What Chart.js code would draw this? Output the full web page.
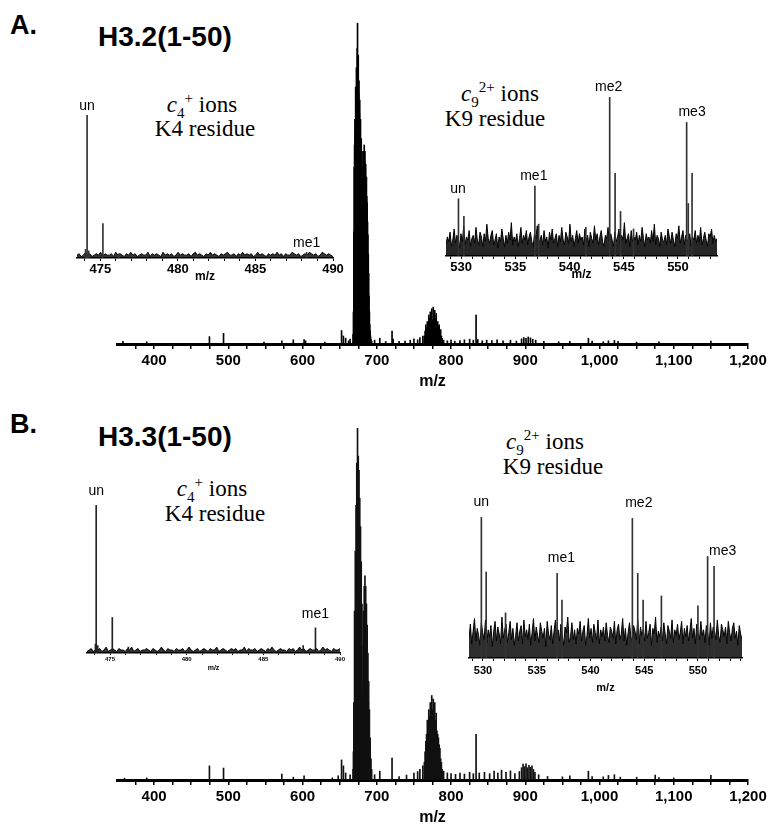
<!DOCTYPE html>
<html>
<head>
<meta charset="utf-8">
<script src="https://cdn.jsdelivr.net/npm/chart.js@4.4.0/dist/chart.umd.min.js"></script>
<style>
  body { margin: 0; background: #fff; }
  #page { position: relative; width: 768px; height: 828px; overflow: hidden; }
  canvas { position: absolute; left: 0; top: 0; }
  .t { position: absolute; white-space: nowrap; line-height: 1; color: #000; }
  .letter { font: bold 27px 'Liberation Sans', Arial, sans-serif; }
  .name { font: bold 28px 'Liberation Sans', Arial, sans-serif; }
  .ion { font: 23px 'Liberation Serif', 'Times New Roman', serif; transform: translateX(-50%); }
  .ion sub, .ion sup { font-size: 15px; line-height: 0; }
</style>
</head>
<body>
<div id="page">
  <div class="t letter" style="left:10px;top:10px">A.</div>
  <div class="t name" style="left:98px;top:21px">H3.2(1-50)</div>
  <div class="t ion" style="left:202px;top:92px"><i>c</i><sub>4</sub><sup>+</sup> ions</div>
  <div class="t ion" style="left:205px;top:116px">K4 residue</div>
  <div class="t ion" style="left:500px;top:81px"><i>c</i><sub>9</sub><sup>2+</sup> ions</div>
  <div class="t ion" style="left:495px;top:106px">K9 residue</div>

  <div class="t letter" style="left:10px;top:409px">B.</div>
  <div class="t name" style="left:98px;top:421px">H3.3(1-50)</div>
  <div class="t ion" style="left:212px;top:476px"><i>c</i><sub>4</sub><sup>+</sup> ions</div>
  <div class="t ion" style="left:215px;top:501px">K4 residue</div>
  <div class="t ion" style="left:545px;top:429px"><i>c</i><sub>9</sub><sup>2+</sup> ions</div>
  <div class="t ion" style="left:553px;top:454px">K9 residue</div>

  <canvas id="mainA" width="768" height="828"></canvas>
  <canvas id="mainB" width="768" height="828"></canvas>
  <canvas id="insAL" width="768" height="828"></canvas>
  <canvas id="insAR" width="768" height="828"></canvas>
  <canvas id="insBL" width="768" height="828"></canvas>
  <canvas id="insBR" width="768" height="828"></canvas>
</div>
<script>
// ---- full spectra (m/z, relative intensity) ----
const mainTickLabels = [400, 500, 600, 700, 800, 900, 1000, 1100, 1200];

const mzA = [358, 390, 474.5, 493.5, 548, 572, 587.5, 602, 604, 630, 652.5, 655, 658, 662, 664,
  668, 668.5, 669, 669.5, 670, 670.5, 671, 671.5, 672, 672.5, 673, 673.5, 674, 674.5, 675, 675.5,
  676, 676.5, 677, 677.5, 678, 678.5, 679, 679.5, 680, 680.5, 681, 681.5, 682, 682.5, 683, 683.5,
  684, 684.5, 685, 685.5, 686, 686.5, 687, 687.5, 688, 688.5, 689, 689.5, 690, 690.5, 691, 691.5,
  692, 692.5, 693,
  697, 704, 712, 720.5, 722, 730, 738, 745, 750, 755, 758, 762,
  764, 765, 766, 767, 768, 769, 770, 771, 772, 773, 774, 775, 776, 777, 778, 779, 780, 781, 782,
  783, 784, 785, 786, 787, 788, 790,
  795, 800, 805, 812, 818, 825, 830, 833.7, 836, 842, 848, 855, 862, 870, 880, 888, 895, 898, 901,
  904, 907, 910, 914, 925, 945, 960, 985, 990, 1005, 1012, 1020, 1025, 1050, 1080, 1150];
const intA = [0.8, 0.7, 2.3, 3.3, 0.6, 1, 1.3, 1.4, 1.0, 0.6, 4.2, 2.5, 1.8, 1, 1.5,
  3, 10, 35, 55, 62, 70, 66, 80, 74, 86, 78, 92, 100, 84, 90, 78,
  82, 72, 76, 68, 70, 62, 64, 58, 60, 52, 40, 55, 60, 58, 62, 57,
  60, 55, 56, 50, 52, 46, 44, 38, 34, 28, 22, 15, 10, 6, 4, 2.5,
  1.5, 1, 0.8,
  1.2, 1.8, 0.8, 4, 1.5, 0.8, 0.9, 1.2, 1.6, 1.3, 2, 2.5,
  2.5, 4, 6, 5, 7, 6.5, 9, 8, 10, 8, 11, 7.5, 11.5, 9, 10.5, 8, 9.5, 6.5, 7,
  5.5, 6, 4, 4.5, 2.5, 1.8, 1.2,
  1, 1.2, 0.9, 1.1, 1.3, 1.5, 1.2, 9, 1.4, 1, 1.2, 1.1, 1.3, 1.0, 1.2, 0.9, 1.6, 2, 1.8,
  2.2, 1.9, 1.5, 1.2, 0.8, 0.7, 0.8, 1.8, 0.9, 0.7, 1.0, 1.1, 0.8, 0.6, 0.7, 0.9];

const mzB = [360, 390, 474.5, 493.5, 572, 587.5, 602, 640, 648, 652.5, 655, 658, 664,
  668, 668.5, 669, 669.5, 670, 670.5, 671, 671.5, 672, 672.5, 673, 673.5, 674, 674.5, 675, 675.5,
  676, 676.5, 677, 677.5, 678, 678.5, 679, 679.5, 680, 680.5, 681, 681.5, 682, 682.5, 683, 683.5,
  684, 684.5, 685, 685.5, 686, 686.5, 687, 687.5, 688, 688.5, 689, 689.5, 690, 690.5, 691, 691.5,
  692, 693,
  697, 704, 720.5, 730, 740, 750, 755, 758, 762,
  764, 765, 766, 767, 768, 769, 770, 771, 772, 773, 774, 775, 776, 777, 778, 779, 780, 781, 782,
  783, 784, 785, 786, 787, 788, 790,
  795, 800, 806, 812, 818, 825, 830, 833.7, 838, 845, 852, 858, 863, 868, 874, 880, 886, 892,
  895, 897, 899, 901, 903, 905, 907, 909, 911, 913, 918, 930, 950, 960, 985, 990, 1005, 1012,
  1020, 1028, 1050, 1075, 1080, 1100, 1150];
const intB = [0.5, 0.6, 4, 3.4, 1.7, 0.8, 1.2, 0.6, 1.2, 5.7, 4, 2, 1.5,
  3, 8, 22, 15, 48, 30, 65, 40, 78, 50, 90, 60, 100, 70, 92, 62,
  88, 55, 80, 52, 72, 45, 62, 38, 50, 25, 15, 28, 48, 35, 55, 40,
  58, 42, 55, 38, 50, 34, 44, 28, 36, 22, 28, 16, 20, 10, 12, 6,
  6, 3,
  1.5, 2.5, 6.2, 1, 1.4, 2, 2.4, 3, 4,
  5, 8, 11, 13, 17, 15, 20, 18, 22, 19, 24, 20, 23, 18, 22, 17, 19, 14, 13,
  12, 10, 9, 6, 5, 3, 2.5,
  2, 1.8, 1.6, 2, 1.7, 2.2, 1.8, 13, 2, 2.2, 1.8, 2.5, 2, 2.8, 2.2, 2.6, 1.8, 2.4,
  3.5, 4.5, 3.8, 4.6, 3.5, 4.2, 3.6, 4.0, 3, 2.2, 1.5, 1, 0.9, 1.2, 2.5, 1, 0.9, 1.3,
  1.5, 0.8, 0.8, 1.4, 0.7, 0.6, 1.3];

// ---- c4+ insets (K4 residue) ----
const c4TickLabels = [475, 480, 485, 490];
const c4PeakMzA = [474.05, 474.15, 474.25, 475.17, 476.2, 488.3];
const c4PeakIntA = [6, 100, 5, 24, 3, 4];
const c4PeakMzB = [474.05, 474.1, 474.2, 475.15, 476.2, 487.6, 488.4];
const c4PeakIntB = [6, 100, 5, 24, 4, 5, 17];
const c4Labels = ['un', 'me1'];
const c4LabelMzA = [474.15, 488.3];
const c4LabelMzB = [474.1, 488.4];
const c4NoiseA = [2,3,1,2,4,2,3,1,2,3,2,4,1,3,2,2,3,1,4,2,3,2,1,3,2,4,2,3,1,2,3,2,2,4,1,3,2,3,2,1,
  4,2,3,2,3,1,2,4,2,3,2,2,3,1,3,4,2,3,2,1,3,2,4,2,3,2,1,3,2,3,4,2,2,3,1,3,2,4,2,3,
  2,3,1,2,4,2,3,2,1,3,2,3,2,4,2,3,1,3,2,2,4,3,2,3,1,2,3,2,4,3,2,3,1,2,4,3,2,3,2,1];
const c4NoiseB = [1,2,3,1,2,2,3,1,2,4,1,2,3,2,1,3,2,2,1,3,2,4,1,2,3,1,2,2,3,2,1,3,2,1,2,4,2,1,3,2,
  2,1,3,2,2,3,1,2,4,2,1,2,3,1,2,3,2,1,3,2,2,4,1,2,3,2,1,2,3,2,3,1,2,2,4,1,3,2,2,3,
  1,2,3,2,1,3,2,4,2,1,2,3,2,2,1,3,2,3,1,2,4,2,3,1,2,3,2,2,3,1,2,4,2,3,2,1,3,2,2,3];

// ---- c9 2+ insets (K9 residue) ----
const c9TickLabels = [530, 535, 540, 545, 550];
const c9PeakMzA = [529.75, 530.25, 536.8, 537.15, 541.5, 543.7, 544.2, 544.7, 545.9, 550.8, 550.95, 551.3];
const c9PeakIntA = [36, 25, 44, 20, 18, 100, 52, 28, 17, 84, 33, 52];
const c9PeakMzB = [529.85, 530.3, 532.1, 536.9, 537.35, 543.9, 544.4, 544.9, 546.6, 550.0, 550.9, 551.5];
const c9PeakIntB = [100, 61, 32, 60, 41, 99, 60, 41, 44, 37, 72, 65];
const c9Labels = ['un', 'me1', 'me2', 'me3'];
const c9LabelMzA = [529.7, 536.7, 543.6, 551.3];
const c9LabelMzB = [529.85, 537.3, 544.5, 552.3];
const c9NoiseA = [7,12,9,15,6,10,17,8,13,11,5,14,9,19,7,12,10,16,6,11,
  13,8,18,10,7,15,12,6,14,9,20,11,8,13,16,7,10,14,5,12,
  9,17,11,6,13,8,15,10,21,7,12,9,14,6,11,18,8,13,10,16,
  7,12,15,9,6,14,11,19,8,10,13,7,16,9,12,5,15,10,17,8,
  11,14,6,13,9,18,10,7,15,12,8,20,9,13,6,11,16,8,14,10,
  12,7,17,9,13,6,15,11,8,19,10,14,7,12,16,9,6,13,11,18,
  8,14,10,6,15,9,12,17,7,13,10,21,8,11,14,6,16,9,12,10,
  15,7,13,9,18,11,6,14,10,12,8,16,9,20,7,13,11,6,15,10,
  9,13,7,17,12,8,15,10,6,14,11,19,8,12,16,7,13,9,11,14,
  6,12,10,16,8,13,9,18,7,11,15,10,6,14,12,17,8,13,9,11];
const c9NoiseB = [14,24,10,19,28,12,21,16,9,25,18,13,27,11,20,15,23,8,19,26,
  12,22,17,10,29,14,20,24,11,18,26,13,21,9,16,25,12,19,23,10,
  27,15,20,13,24,9,18,28,12,22,16,11,25,19,14,21,8,26,17,13,
  23,10,19,27,14,20,12,24,16,9,22,18,29,11,15,25,13,20,10,21,
  17,26,12,19,23,9,16,28,14,21,11,24,18,13,27,10,20,15,22,12,
  25,16,11,22,19,14,26,10,20,24,13,17,28,12,21,9,18,25,15,11,
  23,19,13,27,10,22,16,20,12,26,14,18,24,9,21,17,29,11,19,15,
  22,12,25,17,10,23,19,14,27,11,20,16,24,13,18,26,10,21,15,23,
  12,19,28,14,21,10,24,17,13,26,16,20,11,23,18,9,25,14,22,19,
  13,27,16,11,24,20,15,22,10,26,18,12,21,25,14,19,9,23,17,13];

const W = 768, H = 828;
const SANS = "'Liberation Sans', Arial, sans-serif";

// writes "un", "me1"... above the highest peak near each label position
const peakLabels = {
  id: 'peakLabels',
  afterDraw(chart, args, o) {
    if (!o.text) return;
    const { ctx, scales: { x, y } } = chart;
    ctx.save();
    ctx.font = '14px ' + SANS;
    ctx.fillStyle = '#000';
    ctx.textAlign = 'center';
    ctx.textBaseline = 'alphabetic';
    o.text.forEach((t, i) => {
      let top = 0;
      o.peakMz.forEach((p, j) => {
        if (Math.abs(p - o.mz[i]) <= o.win) top = Math.max(top, o.peakInt[j]);
      });
      ctx.fillText(t, x.getPixelForValue(o.mz[i]), y.getPixelForValue(top) - o.gap);
    });
    ctx.restore();
  }
};

function spectrum(id, o) {
  const datasets = [];
  if (o.noise) {
    const step = (o.max - o.min) / (o.noise.length - 1);
    datasets.push({
      type: 'line',
      data: o.noise.map((v, i) => ({ x: o.min + i * step, y: v })),
      borderColor: o.noiseLine, backgroundColor: o.noiseFill, fill: 'origin',
      borderWidth: 1, pointRadius: 0, tension: 0, order: 2
    });
  }
  datasets.push({
    type: 'bar',
    data: o.peakMz.map((m, i) => ({ x: m, y: o.peakInt[i] })),
    backgroundColor: o.peakColor, barThickness: 1, order: 1
  });

  const ticks = [];
  for (let v = o.tickFrom; v <= o.max + 1e-9; v += o.tickStep) ticks.push(v);

  return new Chart(document.getElementById(id), {
    type: 'bar',
    data: { datasets },
    options: {
      responsive: false,
      animation: false,
      events: [],
      layout: {
        autoPadding: false,
        padding: { left: o.area[0], right: W - o.area[1], top: o.area[2], bottom: H - o.area[3] - o.axisH }
      },
      plugins: {
        legend: { display: false },
        tooltip: { enabled: false },
        peakLabels: o.labels ? { text: o.labels, mz: o.labelMz, peakMz: o.peakMz, peakInt: o.peakInt, win: o.win, gap: o.gap } : {}
      },
      scales: {
        x: {
          type: 'linear', min: o.min, max: o.max, offset: false,
          afterBuildTicks: s => { s.ticks = ticks.map(v => ({ value: v })); },
          afterFit: s => {
            s.height = o.axisH;
            s.paddingLeft = 0; s.paddingRight = 0; s.paddingTop = 0; s.paddingBottom = 0;
          },
          grid: { drawOnChartArea: false, offset: false, color: '#000', lineWidth: o.tickW, tickLength: o.tickLen },
          border: { color: '#000', width: o.axisW },
          ticks: {
            autoSkip: false, maxRotation: 0, color: '#000', padding: o.tickPad,
            font: { family: SANS, size: o.tickFont, weight: 'bold' },
            callback: v => o.tickLabels.some(l => Math.abs(l - v) < 1e-6) ? Math.round(v).toLocaleString('en-US') : ''
          },
          title: { display: true, text: 'm/z', color: '#000', padding: 0, font: { family: SANS, size: o.titleFont, weight: 'bold' } }
        },
        y: { display: false, min: 0, max: 100 }
      }
    },
    plugins: [peakLabels]
  });
}

const mainStyle = { min: 350, max: 1200, tickFrom: 375, tickStep: 25, tickLabels: mainTickLabels,
  axisW: 3, tickW: 1.5, tickLen: 5, tickPad: 3, tickFont: 15, titleFont: 16, axisH: 47, peakColor: '#000' };

spectrum('mainA', Object.assign({}, mainStyle, { area: [117, 748, 23, 344], peakMz: mzA, peakInt: intA }));
spectrum('mainB', Object.assign({}, mainStyle, { area: [117, 748, 428, 780], peakMz: mzB, peakInt: intB, peakColor: '#111' }));

spectrum('insAL', { area: [77, 333, 115, 258], min: 473.5, max: 490, tickFrom: 474, tickStep: 1,
  tickLabels: c4TickLabels, axisW: 1.5, tickW: 1, tickLen: 3, tickPad: 1, tickFont: 13, titleFont: 12, axisH: 26,
  peakMz: c4PeakMzA, peakInt: c4PeakIntA, peakColor: '#333',
  noise: c4NoiseA, noiseLine: '#000', noiseFill: 'rgba(0,0,0,0.8)',
  labels: c4Labels, labelMz: c4LabelMzA, win: 0.6, gap: 5 });

spectrum('insAR', { area: [446, 717, 97, 256], min: 528.6, max: 553.6, tickFrom: 529, tickStep: 1,
  tickLabels: c9TickLabels, axisW: 1.5, tickW: 1, tickLen: 3, tickPad: 1, tickFont: 13, titleFont: 12, axisH: 26,
  peakMz: c9PeakMzA, peakInt: c9PeakIntA, peakColor: '#333',
  noise: c9NoiseA, noiseLine: '#000', noiseFill: 'rgba(0,0,0,0.85)',
  labels: c9Labels, labelMz: c9LabelMzA, win: 0.7, gap: 6 });

spectrum('insBL', { area: [87, 340, 505, 653], min: 473.5, max: 490, tickFrom: 474, tickStep: 1,
  tickLabels: c4TickLabels, axisW: 1.5, tickW: 1, tickLen: 2, tickPad: 1, tickFont: 6, titleFont: 7, axisH: 19,
  peakMz: c4PeakMzB, peakInt: c4PeakIntB, peakColor: '#222',
  noise: c4NoiseB, noiseLine: '#000', noiseFill: 'rgba(0,0,0,0.8)',
  labels: c4Labels, labelMz: c4LabelMzB, win: 0.6, gap: 10 });

spectrum('insBR', { area: [469, 742, 517, 658], min: 528.7, max: 554.1, tickFrom: 529, tickStep: 1,
  tickLabels: c9TickLabels, axisW: 1.5, tickW: 1, tickLen: 3, tickPad: 3, tickFont: 11, titleFont: 11, axisH: 37,
  peakMz: c9PeakMzB, peakInt: c9PeakIntB, peakColor: '#333',
  noise: c9NoiseB, noiseLine: '#000', noiseFill: 'rgba(0,0,0,0.82)',
  labels: c9Labels, labelMz: c9LabelMzB, win: 1.2, gap: 11 });
</script>
</body>
</html>
